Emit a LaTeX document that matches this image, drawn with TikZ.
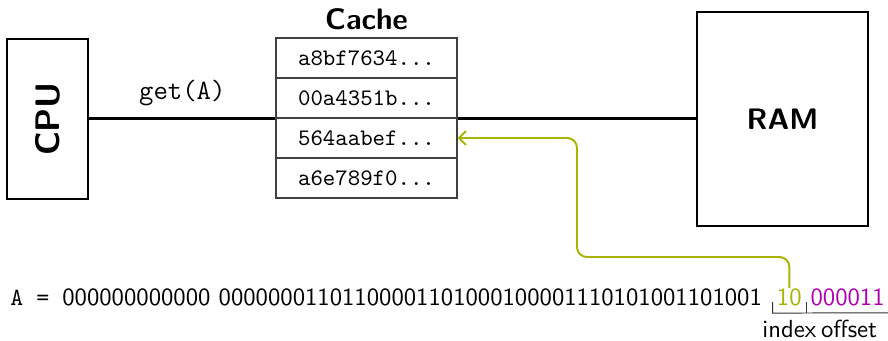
\documentclass[tikz,border=0pt]{standalone}
\usepackage{fontspec}
\usepackage{graphicx}
\usetikzlibrary{arrows.meta}
\definecolor{idxcol}{RGB}{168,180,0}
\definecolor{offcol}{RGB}{176,0,176}
\begin{document}
\begin{tikzpicture}[x=0.405pt,y=-0.405pt,font=\sffamily,
  unitbox/.style={draw=black,line width=1pt,inner sep=0pt,font=\sffamily\bfseries},
  cell/.style={draw=black!75,line width=0.5pt,minimum width=73.3pt,minimum height=16.2pt,inner sep=0pt,
    font=\ttfamily\fontsize{9.6}{11}\selectfont},
  bus/.style={line width=1pt},
  bits/.style={inner sep=0pt,anchor=base west},
  brace/.style={line width=0.4pt,black!80},
  lookup/.style={idxcol,line width=0.8pt,rounded corners=4pt,-{Straight Barb[length=2.8pt,width=5.6pt]}}]
\useasboundingbox (0,0) rectangle (888,341);

% processor and main memory
\node[unitbox,minimum width=32.8pt,minimum height=64.8pt] (cpu) at (47.5,119)
  {\fontsize{13.8}{16}\selectfont\rotatebox{90}{CPU}};
\node[unitbox,minimum width=69.3pt,minimum height=86.7pt] (ram) at (782.5,119)
  {\large RAM};

% cache lines
\node[cell] (c1) at (366.5,58) {a8bf7634...};
\node[cell] (c2) at (366.5,98) {00a4351b...};
\node[cell] (c3) at (366.5,138) {564aabef...};
\node[cell] (c4) at (366.5,178) {a6e789f0...};
\node[font=\sffamily\bfseries\large] (title) at (366.5,19) {Cache};

% buses
\draw[bus] (cpu.east |- c2.south west) -- (c2.south west)
  node[midway,anchor=south,inner sep=0pt,yshift=4.5pt,font=\ttfamily\fontsize{11.3}{13}\selectfont] {get(A)};
\draw[bus] (c2.south east) -- (c2.south east -| ram.west);

% address bits
\node[bits] (addr) at (10,305) {\texttt{A =\ }000000000000 00000001101100001101000100001110101001101001};
\node[bits,text=idxcol] (idx) at ([xshift=5.7pt]addr.base east) {10};
\node[bits,text=offcol] (off) at ([xshift=3.2pt]idx.base east) {000011};

% field brackets
\draw[brace] ([xshift=-1.6pt,yshift=1.2pt]idx.base west) -- ++(0,11)
  -- ([xshift=2.8pt,yshift=-3.2pt]off.base east) -- ++(0,-11);
\draw[brace] ([xshift=1.6pt,yshift=1.2pt]idx.base east) -- ++(0,11);
\path ([xshift=-1.6pt]idx.base west) -- ([xshift=1.6pt]idx.base east)
  node[midway,anchor=base,yshift=-12.96pt] (idxlab) {index};
\path ([xshift=1.6pt]idx.base east) -- ([xshift=2.8pt]off.base east)
  node[midway,anchor=base,yshift=-12.96pt] (offlab) {offset};

% index selects the cache line
\coordinate (turn) at (577,257);
\draw[lookup] (idx.north) -- (idx.north |- turn) -- (turn) -- (turn |- c3.east) -- (c3.east);
\end{tikzpicture}
\end{document}
